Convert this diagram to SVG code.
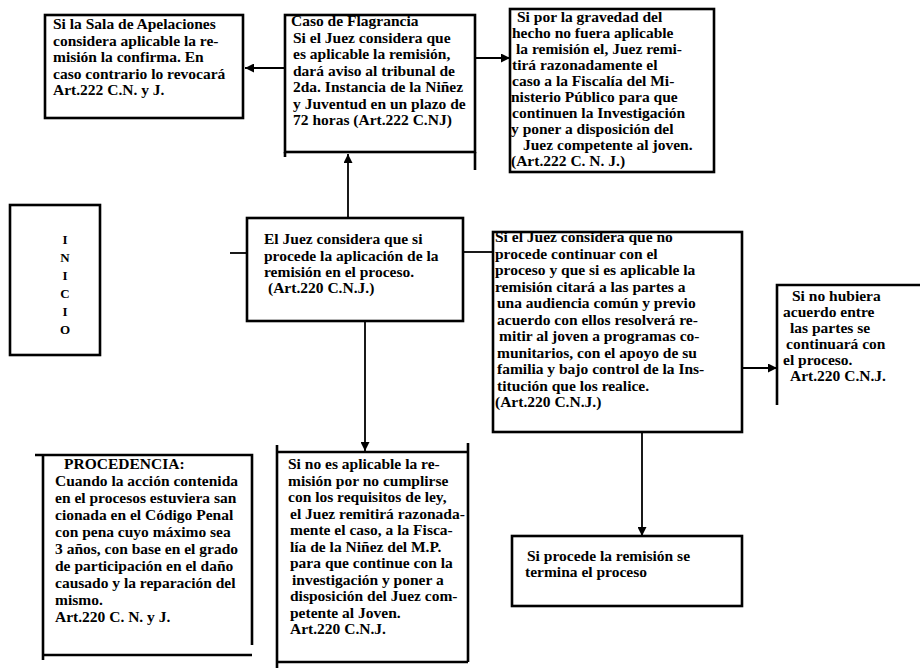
<svg xmlns="http://www.w3.org/2000/svg" width="920" height="668" viewBox="0 0 920 668">
<style>
.box{fill:none;stroke:#000;stroke-width:2.6}
.edge{fill:none;stroke:#000;stroke-width:1.8}
text{font-family:"Liberation Serif","Times New Roman",serif;font-size:15.5px;font-weight:bold;fill:#000}
.ini{font-size:13px}
</style>
<defs>
<marker id="ah" viewBox="0 0 10 10" refX="10" refY="5" markerWidth="9" markerHeight="9" markerUnits="userSpaceOnUse" orient="auto"><path d="M0,0 L10,5 L0,10 z" fill="#000"/></marker>
</defs>
<rect width="920" height="668" fill="#fff"/>

<g id="connectors">
<line class="edge" x1="285" y1="68" x2="245" y2="68" marker-end="url(#ah)"/>
<line class="edge" x1="475" y1="58" x2="510" y2="58" marker-end="url(#ah)"/>
<line class="edge" x1="348" y1="218" x2="348" y2="154" marker-end="url(#ah)"/>
<line class="edge" x1="230" y1="253" x2="247" y2="253"/>
<line class="edge" x1="463" y1="252" x2="493" y2="252"/>
<line class="edge" x1="742" y1="368" x2="777" y2="368" marker-end="url(#ah)"/>
<line class="edge" x1="642" y1="432" x2="642" y2="536" marker-end="url(#ah)"/>
<line class="edge" x1="365" y1="321" x2="365" y2="451" marker-end="url(#ah)"/>
</g>

<g id="apelaciones">
<rect class="box" x="45" y="15" width="198" height="103"/>
<text x="53" y="29">Si la Sala de Apelaciones</text>
<text x="53" y="45.5">considera aplicable la re-</text>
<text x="53" y="62">misión la confirma.  En</text>
<text x="53" y="78.5">caso contrario lo revocará</text>
<text x="53" y="95">Art.222 C.N. y J.</text>
</g>

<g id="flagrancia">
<rect class="box" x="285" y="15" width="190" height="137"/>
<path class="box" d="M285,152 V157 M475,152 V170"/>
<text x="291" y="26">Caso de Flagrancia</text>
<text x="293" y="42.5">Si el Juez considera que</text>
<text x="293" y="59">es aplicable la remisión,</text>
<text x="293" y="75.5">dará aviso al tribunal de</text>
<text x="293" y="92">2da. Instancia de la Niñez</text>
<text x="293" y="108.5">y Juventud en un plazo de</text>
<text x="293" y="125">72 horas (Art.222 C.NJ)</text>
</g>

<g id="gravedad">
<rect class="box" x="510" y="9" width="204" height="163"/>
<text x="517" y="22">Si por la gravedad del</text>
<text x="512" y="38">hecho no fuera aplicable</text>
<text x="516" y="54">la remisión el, Juez remi-</text>
<text x="512" y="70">tirá razonadamente el</text>
<text x="512" y="86">caso a la Fiscalía del Mi-</text>
<text x="511" y="102">nisterio Público para que</text>
<text x="512" y="118">continuen la Investigación</text>
<text x="511" y="134">y poner a disposición del</text>
<text x="523" y="150">Juez competente al joven.</text>
<text x="511" y="166">(Art.222 C. N. J.)</text>
</g>

<g id="inicio">
<rect class="box" x="10" y="205" width="90" height="150"/>
<text class="ini" x="65" y="244" text-anchor="middle">I</text>
<text class="ini" x="65" y="262" text-anchor="middle">N</text>
<text class="ini" x="65" y="280" text-anchor="middle">I</text>
<text class="ini" x="65" y="298" text-anchor="middle">C</text>
<text class="ini" x="65" y="316" text-anchor="middle">I</text>
<text class="ini" x="65" y="334" text-anchor="middle">O</text>
</g>

<g id="considera-si">
<rect class="box" x="247" y="218" width="216" height="103"/>
<text x="264" y="244">El Juez considera que si</text>
<text x="264" y="261">procede la aplicación de la</text>
<text x="264" y="277">remisión en el proceso.</text>
<text x="268" y="293">(Art.220 C.N.J.)</text>
</g>

<g id="considera-no">
<rect class="box" x="493" y="232" width="249" height="200"/>
<text x="495" y="242">Si el Juez considera que no</text>
<text x="495" y="258.5">procede continuar con el</text>
<text x="495" y="275">proceso y que si es aplicable la</text>
<text x="495" y="291.5">remisión citará a las partes a</text>
<text x="497" y="308">una audiencia común y previo</text>
<text x="497" y="324.5">acuerdo con ellos resolverá re-</text>
<text x="499" y="341">mitir al joven a programas co-</text>
<text x="497" y="357.5">munitarios, con el apoyo de su</text>
<text x="497" y="374">familia y bajo control de la Ins-</text>
<text x="497" y="390.5">titución que los realice.</text>
<text x="495" y="407">(Art.220 C.N.J.)</text>
</g>

<g id="no-acuerdo">
<path class="box" d="M925,285 H777 V405"/>
<text x="792" y="301">Si no hubiera</text>
<text x="783" y="317">acuerdo entre</text>
<text x="790" y="333">las partes se</text>
<text x="786" y="349">continuará con</text>
<text x="783" y="365">el proceso.</text>
<text x="790" y="381">Art.220 C.N.J.</text>
</g>

<g id="procedencia">
<path class="box" d="M35,455 H252 V645 M43,455 V660 M43,655 H252"/>
<text x="64" y="469">PROCEDENCIA:</text>
<text x="55" y="486">Cuando la acción contenida</text>
<text x="55" y="503">en el procesos estuviera san</text>
<text x="55" y="520">cionada en el Código Penal</text>
<text x="55" y="537">con pena cuyo máximo sea</text>
<text x="55" y="554">3 años, con base en el grado</text>
<text x="55" y="571">de participación en el daño</text>
<text x="55" y="588">causado y la reparación del</text>
<text x="55" y="605">mismo.</text>
<text x="55" y="622">Art.220 C. N. y J.</text>
</g>

<g id="no-aplicable">
<path class="box" d="M277,445 V668 M277,452 H468 M468,443 V662 M277,662 H468"/>
<text x="288" y="469">Si no es aplicable la re-</text>
<text x="288" y="485.5">misión por no cumplirse</text>
<text x="288" y="502">con los requisitos de ley,</text>
<text x="290" y="518.5">el Juez remitirá razonada-</text>
<text x="290" y="535">mente el caso, a la Fisca-</text>
<text x="290" y="551.5">lía de la Niñez del M.P.</text>
<text x="290" y="568">para que continue con la</text>
<text x="292" y="584.5">investigación y poner a</text>
<text x="290" y="601">disposición  del Juez com-</text>
<text x="290" y="617.5">petente al Joven.</text>
<text x="290" y="634">Art.220 C.N.J.</text>
</g>

<g id="termina">
<rect class="box" x="512" y="536" width="230" height="70"/>
<text x="527" y="561">Si procede la remisión se</text>
<text x="525" y="577">termina el proceso</text>
</g>
</svg>
